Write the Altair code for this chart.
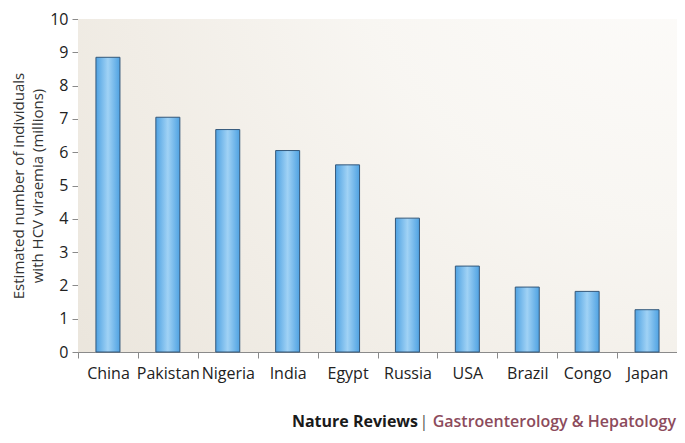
import altair as alt
import pandas as pd

countries = ["China", "Pakistan", "Nigeria", "India", "Egypt", "Russia", "USA", "Brazil", "Congo", "Japan"]
values = [8.85, 7.05, 6.68, 6.05, 5.62, 4.02, 2.58, 1.95, 1.82, 1.27]
y_ticks = list(range(0, 11))
y_title = ["Estimated number of individuals", "with HCV viraemia (millions)"]
footer_left = "Nature Reviews"
footer_sep = "|"
footer_right = "Gastroenterology & Hepatology"

df = pd.DataFrame({"country": countries, "value": values})
one = pd.DataFrame({"a": [0]})

LEFT = 70
W, H = 599, 333
TOP = 11
TOTAL_H = 425
FONT = "Open Sans"

bg_grad = alt.RadialGradient(
    gradient="radial",
    x1=1.0, y1=0.0, r1=0.0,
    x2=1.0, y2=0.0, r2=1.25,
    stops=[
        alt.GradientStop(color="#fefdfc", offset=0.0),
        alt.GradientStop(color="#f8f6f2", offset=0.45),
        alt.GradientStop(color="#f1ede6", offset=0.75),
        alt.GradientStop(color="#ebe6dd", offset=1.0),
    ],
)

bar_grad = alt.LinearGradient(
    gradient="linear",
    x1=0, y1=0, x2=1, y2=0,
    stops=[
        alt.GradientStop(color="#4fa2e2", offset=0.0),
        alt.GradientStop(color="#a0d2f5", offset=0.5),
        alt.GradientStop(color="#4fa2e2", offset=1.0),
    ],
)

bg = alt.Chart(one).mark_rect(fill=bg_grad, strokeWidth=0).encode(
    x=alt.value(0), x2=alt.value(W), y=alt.value(0), y2=alt.value(H)
)

bars = alt.Chart(df).mark_bar(width=24, fill=bar_grad, stroke="#34587a", strokeWidth=1).encode(
    x=alt.X(
        "country:N",
        sort=countries,
        scale=alt.Scale(paddingInner=0, paddingOuter=0),
        axis=alt.Axis(
            title=None,
            tickBand="extent",
            labelAngle=0,
            labelFont=FONT,
            labelFontSize=16,
            labelColor="#222222",
            labelPadding=7,
            tickSize=6,
            tickColor="#8a8a8a",
            domainColor="#8a8a8a",
        ),
    ),
    y=alt.Y(
        "value:Q",
        scale=alt.Scale(domain=[0, 10], nice=False),
        axis=alt.Axis(
            values=y_ticks,
            title=y_title,
            titleFont=FONT,
            titleFontSize=15,
            titleFontWeight="normal",
            titleColor="#333333",
            titlePadding=4,
            titleLineHeight=19,
            grid=False,
            labelFont=FONT,
            labelFontSize=16,
            labelColor="#222222",
            labelPadding=4,
            tickSize=6,
            tickColor="#8a8a8a",
            domainColor="#8a8a8a",
        ),
    ),
)

FY = TOTAL_H - 6 - TOP
f3 = alt.Chart(one).mark_text(font=FONT, fontSize=16, fontWeight=600, color="#8c4b5c", align="right", baseline="alphabetic").encode(
    x=alt.value(W - 1), y=alt.value(FY), text=alt.value(footer_right)
)
f2 = alt.Chart(one).mark_text(font=FONT, fontSize=16, color="#555555", align="center", baseline="alphabetic").encode(
    x=alt.value(W - 1 - 252), y=alt.value(FY), text=alt.value(footer_sep)
)
f1 = alt.Chart(one).mark_text(font=FONT, fontSize=16, fontWeight="bold", color="#1a1a1a", align="right", baseline="alphabetic").encode(
    x=alt.value(W - 1 - 258), y=alt.value(FY), text=alt.value(footer_left)
)

chart = alt.layer(bg, bars, f1, f2, f3).properties(
    width=W,
    height=H,
    padding={"left": LEFT, "top": TOP, "right": 0, "bottom": TOTAL_H - TOP - H},
    autosize=alt.AutoSizeParams(type="none"),
    background="white",
).configure_view(stroke=None)

chart.save("out.html", embed_options={"renderer": "svg", "actions": False})
